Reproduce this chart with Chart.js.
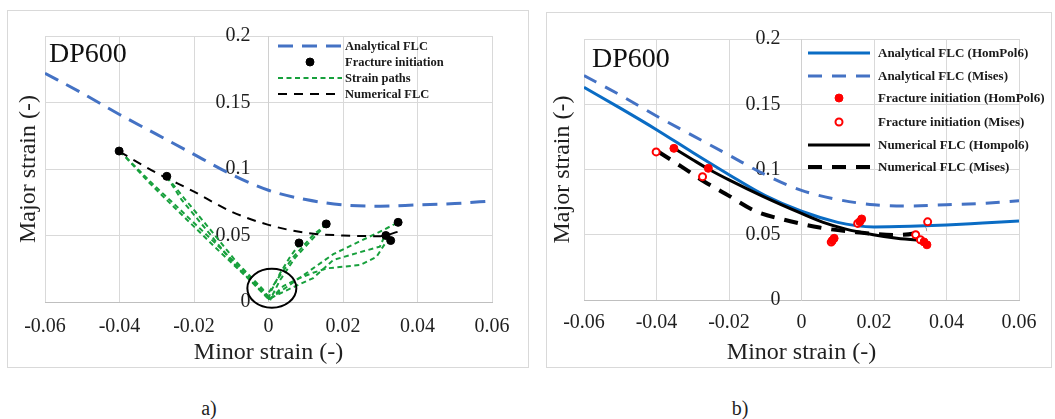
<!DOCTYPE html>
<html>
<head>
<meta charset="utf-8">
<title>DP600 forming limit curves</title>
<script src="https://cdn.jsdelivr.net/npm/chart.js"></script>
<style>
  body { margin: 0; width: 1055px; height: 419px; background: #fff; position: relative; overflow: hidden;
         font-family: 'Liberation Serif', 'Times New Roman', serif; color: #1f1f1f; }
  .panel { position: absolute; border: 1px solid #d9d9d9; }
  .panel canvas { display: block; }
  .tag { position: absolute; font-size: 28px; line-height: 28px; color: #111; }
  .cap { position: absolute; width: 40px; text-align: center; font-size: 20px; line-height: 20px; }
  .lg { position: absolute; height: 16px; white-space: nowrap; }
  .lg svg { position: absolute; left: 0; top: 0; }
  .lg span { position: absolute; top: 0; line-height: 16px; font-weight: bold; color: #1a1a1a; }
</style>
</head>
<body>
  <div class="panel" style="left:7px; top:10px;"><canvas id="chartA" width="520" height="356"></canvas></div>
  <div class="panel" style="left:546px; top:12px;"><canvas id="chartB" width="504" height="354"></canvas></div>
  <div class="tag" style="left:49px; top:39px;">DP600</div>
  <div class="tag" style="left:592px; top:44px;">DP600</div>
  <div class="cap" style="left:189px; top:398px;">a)</div>
  <div class="cap" style="left:720px; top:398px;">b)</div>
  <script>
    // analytical FLC, Mises (same curve in both panels)
    const flcMinor = [-0.06, -0.05, -0.04, -0.03, -0.02, -0.01, 0, 0.01, 0.02, 0.03, 0.04, 0.05, 0.06];
    const flcMisesMajor = [0.172, 0.157, 0.141, 0.126, 0.111, 0.096, 0.084, 0.077, 0.073, 0.072, 0.073, 0.074, 0.076];

    // analytical FLC, HomPol6
    const flcHomMinor = [-0.06, -0.05, -0.04, -0.03, -0.02, -0.01, 0, 0.01, 0.015, 0.02, 0.03, 0.04, 0.05, 0.06];
    const flcHomMajor = [0.163, 0.147, 0.1305, 0.113, 0.096, 0.080, 0.068, 0.0595, 0.057, 0.056, 0.0565, 0.0575, 0.059, 0.0605];

    // fracture initiation points
    const fracMisesMinor = [-0.0401, -0.0273, 0.0082, 0.0155, 0.0315, 0.0328, 0.0348];
    const fracMisesMajor = [0.1135, 0.0945, 0.0444, 0.0587, 0.0500, 0.0462, 0.0599];
    const fracHomMinor = [-0.0352, -0.0257, 0.0085, 0.0090, 0.0161, 0.0166, 0.0338, 0.0346];
    const fracHomMajor = [0.1162, 0.1009, 0.0455, 0.0473, 0.0600, 0.0621, 0.0445, 0.0423];

    // numerical FLCs
    const numAMinor = [-0.04, -0.03, -0.02, -0.01, 0, 0.01, 0.02, 0.03, 0.035];
    const numAMajor = [0.113, 0.097, 0.083, 0.068, 0.058, 0.052, 0.050, 0.0495, 0.053];
    const numMisesMinor = [-0.0395, -0.033, -0.027, -0.021, -0.0124, -0.005, 0.005, 0.0152, 0.0263, 0.031, 0.0345];
    const numMisesMajor = [0.1136, 0.102, 0.091, 0.0815, 0.0677, 0.0617, 0.0555, 0.0519, 0.0498, 0.051, 0.0542];
    const numHomMinor = [-0.0354, -0.03, -0.0252, -0.02, -0.0105, 0, 0.006, 0.012, 0.0198, 0.0263, 0.0345];
    const numHomMajor = [0.1167, 0.1075, 0.0996, 0.092, 0.0792, 0.0663, 0.0595, 0.0545, 0.050, 0.0473, 0.0455];

    // measured strain paths, origin to each fracture point
    const strainPathMinor = [
      [-0.0399, -0.0318, -0.0256, -0.0139, -0.0041, -0.001, 0.0005],
      [-0.0399, -0.031, -0.0245, -0.0127, -0.003, 0.0008],
      [-0.0273, -0.0233, -0.0166, -0.0094, -0.0023, 0.0003],
      [-0.0273, -0.0222, -0.0155, -0.0084, -0.0015, 0.0006],
      [0.0085, 0.0058, 0.0031, 0.0004, 0],
      [0.0156, 0.012, 0.0067, 0.0022, -0.0004, 0.0003],
      [0.0156, 0.0125, 0.0072, 0.003, 0.0005],
      [0.0004, 0.004, 0.0081, 0.012, 0.0156, 0.02, 0.0246, 0.029, 0.0313, 0.0326],
      [0.0006, 0.005, 0.012, 0.0174, 0.024, 0.0299, 0.0313],
      [0.0002, 0.005, 0.0174, 0.0308, 0.0348]
    ];
    const strainPathMajor = [
      [0.1135, 0.089, 0.072, 0.040, 0.014, 0.005, 0.001],
      [0.1135, 0.0885, 0.0715, 0.040, 0.0125, 0.002],
      [0.0942, 0.0767, 0.0541, 0.0291, 0.009, 0.002],
      [0.0942, 0.0765, 0.054, 0.0295, 0.0095, 0.001],
      [0.0441, 0.034, 0.0216, 0.0065, 0.001],
      [0.0586, 0.0504, 0.034, 0.0165, 0.005, 0.001],
      [0.0586, 0.0495, 0.0335, 0.016, 0.002],
      [0.002, 0.012, 0.0178, 0.022, 0.0253, 0.0265, 0.0278, 0.034, 0.044, 0.0466],
      [0.003, 0.009, 0.018, 0.0316, 0.037, 0.0416, 0.0504],
      [0.002, 0.0115, 0.036, 0.0541, 0.0599]
    ];

    const ringCenter = [0.0009, 0.0103];

    const xTicks = { min: -0.06, max: 0.06, step: 0.02 };
    const yTicks = { min: 0, max: 0.2, step: 0.05 };

    const SERIF = "'Liberation Serif', 'Times New Roman', serif";
    Chart.defaults.font.family = SERIF;
    Chart.defaults.color = '#1f1f1f';

    const xy = (xs, ys) => xs.map((x, i) => ({ x: x, y: ys[i] }));
    const fmt = v => (v === 0 ? '0' : String(Math.round(v * 1000) / 1000));

    function lineSet(label, xs, ys, color, width, dash, order, smooth) {
      return {
        label: label, data: xy(xs, ys), showLine: true, fill: false,
        borderColor: color, borderWidth: width, borderDash: dash,
        pointRadius: 0, order: order,
        cubicInterpolationMode: smooth ? 'monotone' : 'default', tension: 0
      };
    }

    function pointSet(label, xs, ys, fill, stroke, radius, bw) {
      return {
        label: label, data: xy(xs, ys), showLine: false,
        pointRadius: radius, pointBackgroundColor: fill, pointBorderColor: stroke,
        pointBorderWidth: bw, order: 0
      };
    }

    function scaleSet(g) {
      return {
        x: {
          type: 'linear', position: 'bottom', min: xTicks.min, max: xTicks.max,
          ticks: { stepSize: xTicks.step, padding: g.xTickPad, font: { size: 20 }, callback: fmt },
          grid: { color: '#d9d9d9', drawTicks: false },
          border: { color: '#bfbfbf' },
          title: { display: true, text: 'Minor strain (-)', font: { size: 24 }, padding: 0 },
          afterFit: s => { s.height = g.xHeight; }
        },
        // vertical axis crossing at minor strain = 0; its labels are drawn by yLabelPlugin
        y: {
          type: 'linear', position: { x: 0 }, min: yTicks.min, max: yTicks.max,
          ticks: { stepSize: yTicks.step, display: false },
          grid: { color: '#d9d9d9', drawTicks: false },
          border: { color: '#d0d0d0' }
        },
        yTitle: {
          type: 'linear', position: 'left', min: yTicks.min, max: yTicks.max,
          ticks: { display: false }, grid: { display: false }, border: { display: false },
          title: { display: true, text: 'Major strain (-)', font: { size: 24 }, padding: { top: g.yTitlePad, bottom: 0 } },
          afterFit: s => { s.width = 37; }
        }
      };
    }

    // tick labels of the centred y axis, set off to the left of the axis line
    const yLabelPlugin = {
      id: 'yLabels',
      beforeDatasetsDraw(chart, args, opts) {
        const ys = chart.scales.y;
        const x0 = chart.scales.x.getPixelForValue(0);
        const ctx = chart.ctx;
        ctx.save();
        ctx.font = '20px ' + SERIF;
        ctx.fillStyle = '#1f1f1f';
        ctx.textAlign = 'right';
        ctx.textBaseline = 'middle';
        ys.ticks.forEach(t => ctx.fillText(fmt(t.value), x0 - opts.pad, ys.getPixelForValue(t.value)));
        ctx.restore();
      }
    };

    // black ring around the origin of the strain paths
    const ringPlugin = {
      id: 'ring',
      afterDatasetsDraw(chart, args, opts) {
        if (!opts.center) return;
        const ctx = chart.ctx;
        ctx.save();
        ctx.beginPath();
        ctx.ellipse(chart.scales.x.getPixelForValue(opts.center[0]),
                    chart.scales.y.getPixelForValue(opts.center[1]),
                    opts.rx, opts.ry, 0, 0, Math.PI * 2);
        ctx.lineWidth = 2;
        ctx.strokeStyle = '#000';
        ctx.stroke();
        ctx.restore();
      }
    };

    function makeChart(id, datasets, g) {
      return new Chart(document.getElementById(id), {
        type: 'scatter',
        data: { datasets: datasets },
        plugins: [yLabelPlugin, ringPlugin],
        options: {
          responsive: false, animation: false, events: [],
          layout: { padding: { top: g.top, right: g.right, left: 0, bottom: 0 } },
          scales: scaleSet(g),
          plugins: {
            legend: { display: false }, tooltip: { enabled: false },
            yLabels: { pad: g.yTickPad },
            ring: g.ring || {}
          }
        }
      });
    }

    // panel a)
    const aAnalytical = lineSet('Analytical FLC', flcMinor, flcMisesMajor, '#4472c4', 3, [15, 9], 1, true);
    const aFracture = pointSet('Fracture initiation', fracMisesMinor, fracMisesMajor, '#000', '#000', 4, 1);
    const aNumerical = lineSet('Numerical FLC', numAMinor, numAMajor, '#000', 2, [9, 7], 1, true);
    const aPaths = strainPathMinor.map((xs, i) =>
      lineSet('Strain paths', xs, strainPathMajor[i], '#17a03c', 2, [5, 3.5], 2, false));

    makeChart('chartA', [aFracture, aNumerical, aAnalytical].concat(aPaths),
      { top: 25, right: 36, xHeight: 65, xTickPad: 13, yTickPad: 18, yTitlePad: 6,
        ring: { center: ringCenter, rx: 24.5, ry: 19.5 } });

    // panel b)
    const bAnaHom = lineSet('Analytical FLC (HomPol6)', flcHomMinor, flcHomMajor, '#0a6cc4', 3, [], 2, true);
    const bAnaMises = lineSet('Analytical FLC (Mises)', flcMinor, flcMisesMajor, '#4472c4', 3, [14, 10], 2, true);
    const bFracHom = pointSet('Fracture initiation (HomPol6)', fracHomMinor, fracHomMajor, '#ff0000', '#ff0000', 4, 1);
    const bFracMises = pointSet('Fracture initiation (Mises)', fracMisesMinor, fracMisesMajor, '#ffffff', '#ff0000', 3.5, 2);
    const bNumHom = lineSet('Numerical FLC (Hompol6)', numHomMinor, numHomMajor, '#000', 3, [], 1, true);
    const bNumMises = lineSet('Numerical FLC (Mises)', numMisesMinor, numMisesMajor, '#000', 4, [14, 10], 1, true);

    makeChart('chartB', [bFracHom, bFracMises, bNumHom, bNumMises, bAnaHom, bAnaMises],
      { top: 26, right: 32, xHeight: 67, xTickPad: 11, yTickPad: 21, yTitlePad: 1 });

    // legends inside the plot areas
    function drawLegend(items, box) {
      items.forEach((ds, i) => {
        const row = document.createElement('div');
        row.className = 'lg';
        row.style.left = box.x + 'px';
        row.style.top = (box.rows[i] - 8) + 'px';
        let svg = '<svg width="' + box.w + '" height="16">';
        if (ds.showLine) {
          svg += '<line x1="0" y1="8" x2="' + box.w + '" y2="8" stroke="' + ds.borderColor +
                 '" stroke-width="' + ds.borderWidth + '" stroke-dasharray="' + ds.borderDash.join(' ') + '"/>';
        } else {
          svg += '<circle cx="' + (box.w / 2) + '" cy="8" r="' + ds.pointRadius + '" fill="' + ds.pointBackgroundColor +
                 '" stroke="' + ds.pointBorderColor + '" stroke-width="' + ds.pointBorderWidth + '"/>';
        }
        svg += '</svg>';
        const span = document.createElement('span');
        span.style.left = (box.tx - box.x) + 'px';
        span.style.fontSize = box.size + 'px';
        span.textContent = ds.label;
        row.innerHTML = svg;
        row.appendChild(span);
        document.body.appendChild(row);
      });
    }

    drawLegend([aAnalytical, aFracture, aPaths[0], aNumerical],
      { x: 278, w: 64, tx: 345, size: 12.5, rows: [45.5, 61.5, 77.5, 93.5] });
    drawLegend([bAnaHom, bAnaMises, bFracHom, bFracMises, bNumHom, bNumMises],
      { x: 808, w: 62, tx: 878, size: 13, rows: [53, 75.5, 98, 121.5, 145, 166.5] });
  </script>
</body>
</html>
